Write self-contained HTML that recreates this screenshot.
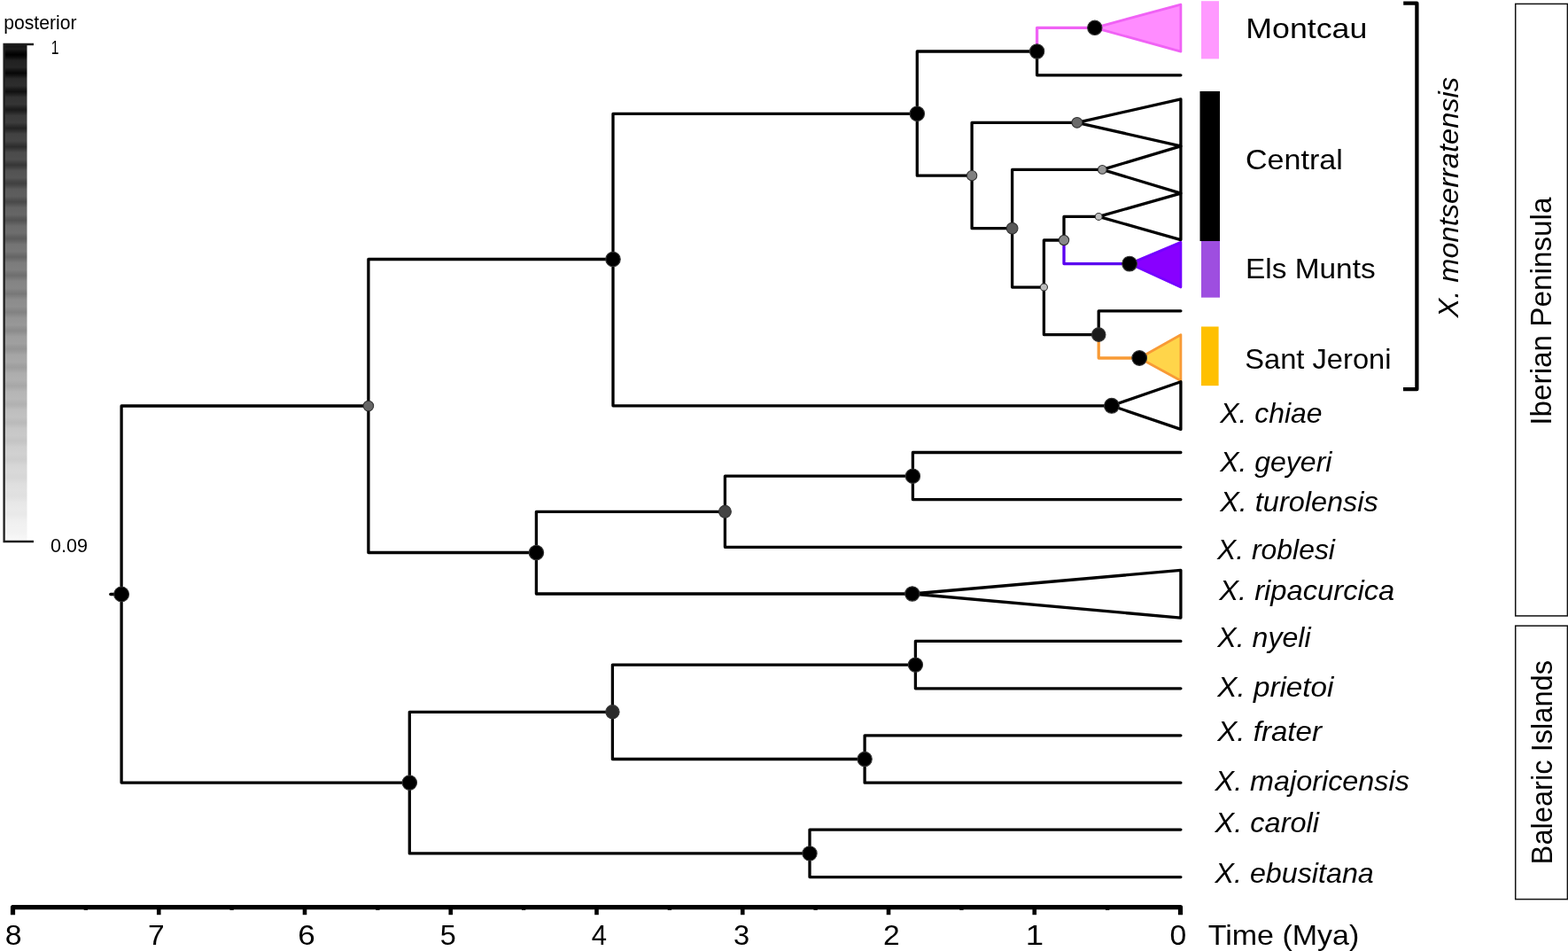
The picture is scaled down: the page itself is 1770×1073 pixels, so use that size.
<!DOCTYPE html>
<html><head><meta charset="utf-8"><title>Phylogeny</title>
<style>
html,body{margin:0;padding:0;background:#fff;}
body{width:1770px;height:1073px;overflow:hidden;}
svg{display:block;}
#wrap{width:1770px;height:1073px;}
text{font-family:"Liberation Sans",Arial,sans-serif;fill:#000;}
.lab{font-size:32px;}
.reg{font-size:33px;}
.sp{font-size:32px;font-style:italic;}
.num{font-size:32px;}
.leg{font-size:21.5px;}
.legn{font-size:22px;}
</style></head>
<body><div id="wrap">
<svg width="1770" height="1073" viewBox="0 0 1770 1073">
<defs>
<linearGradient id="pg" x1="0" y1="0" x2="0" y2="1">
<stop offset="0.0000" stop-color="#111111"/>
<stop offset="0.0093" stop-color="#1c1c1c"/>
<stop offset="0.0155" stop-color="#0a0a0a"/>
<stop offset="0.0209" stop-color="#000000"/>
<stop offset="0.0262" stop-color="#0c0c0c"/>
<stop offset="0.0324" stop-color="#212121"/>
<stop offset="0.0463" stop-color="#252525"/>
<stop offset="0.0525" stop-color="#131313"/>
<stop offset="0.0579" stop-color="#070707"/>
<stop offset="0.0632" stop-color="#151515"/>
<stop offset="0.0694" stop-color="#2a2a2a"/>
<stop offset="0.0833" stop-color="#2d2d2d"/>
<stop offset="0.0895" stop-color="#1c1c1c"/>
<stop offset="0.0949" stop-color="#101010"/>
<stop offset="0.1002" stop-color="#1e1e1e"/>
<stop offset="0.1065" stop-color="#323232"/>
<stop offset="0.1203" stop-color="#353535"/>
<stop offset="0.1265" stop-color="#252525"/>
<stop offset="0.1319" stop-color="#1a1a1a"/>
<stop offset="0.1372" stop-color="#272727"/>
<stop offset="0.1435" stop-color="#3a3a3a"/>
<stop offset="0.1573" stop-color="#3d3d3d"/>
<stop offset="0.1635" stop-color="#2e2e2e"/>
<stop offset="0.1689" stop-color="#232323"/>
<stop offset="0.1742" stop-color="#303030"/>
<stop offset="0.1805" stop-color="#424242"/>
<stop offset="0.1943" stop-color="#454545"/>
<stop offset="0.2005" stop-color="#373737"/>
<stop offset="0.2059" stop-color="#2d2d2d"/>
<stop offset="0.2112" stop-color="#393939"/>
<stop offset="0.2175" stop-color="#4b4b4b"/>
<stop offset="0.2313" stop-color="#4e4e4e"/>
<stop offset="0.2375" stop-color="#404040"/>
<stop offset="0.2429" stop-color="#363636"/>
<stop offset="0.2482" stop-color="#424242"/>
<stop offset="0.2545" stop-color="#535353"/>
<stop offset="0.2683" stop-color="#565656"/>
<stop offset="0.2745" stop-color="#484848"/>
<stop offset="0.2799" stop-color="#404040"/>
<stop offset="0.2852" stop-color="#4b4b4b"/>
<stop offset="0.2915" stop-color="#5b5b5b"/>
<stop offset="0.3053" stop-color="#5e5e5e"/>
<stop offset="0.3116" stop-color="#515151"/>
<stop offset="0.3169" stop-color="#494949"/>
<stop offset="0.3222" stop-color="#545454"/>
<stop offset="0.3285" stop-color="#636363"/>
<stop offset="0.3423" stop-color="#666666"/>
<stop offset="0.3486" stop-color="#5a5a5a"/>
<stop offset="0.3539" stop-color="#535353"/>
<stop offset="0.3593" stop-color="#5d5d5d"/>
<stop offset="0.3655" stop-color="#6b6b6b"/>
<stop offset="0.3793" stop-color="#6e6e6e"/>
<stop offset="0.3856" stop-color="#636363"/>
<stop offset="0.3909" stop-color="#5c5c5c"/>
<stop offset="0.3963" stop-color="#666666"/>
<stop offset="0.4025" stop-color="#747474"/>
<stop offset="0.4163" stop-color="#777777"/>
<stop offset="0.4226" stop-color="#6c6c6c"/>
<stop offset="0.4279" stop-color="#656565"/>
<stop offset="0.4333" stop-color="#6f6f6f"/>
<stop offset="0.4395" stop-color="#7c7c7c"/>
<stop offset="0.4533" stop-color="#7f7f7f"/>
<stop offset="0.4596" stop-color="#757575"/>
<stop offset="0.4649" stop-color="#6f6f6f"/>
<stop offset="0.4703" stop-color="#787878"/>
<stop offset="0.4765" stop-color="#848484"/>
<stop offset="0.4903" stop-color="#878787"/>
<stop offset="0.4966" stop-color="#7e7e7e"/>
<stop offset="0.5019" stop-color="#787878"/>
<stop offset="0.5073" stop-color="#818181"/>
<stop offset="0.5135" stop-color="#8c8c8c"/>
<stop offset="0.5273" stop-color="#8f8f8f"/>
<stop offset="0.5336" stop-color="#878787"/>
<stop offset="0.5389" stop-color="#828282"/>
<stop offset="0.5443" stop-color="#8a8a8a"/>
<stop offset="0.5505" stop-color="#949494"/>
<stop offset="0.5643" stop-color="#989898"/>
<stop offset="0.5706" stop-color="#909090"/>
<stop offset="0.5759" stop-color="#8b8b8b"/>
<stop offset="0.5813" stop-color="#939393"/>
<stop offset="0.5875" stop-color="#9d9d9d"/>
<stop offset="0.6014" stop-color="#a0a0a0"/>
<stop offset="0.6076" stop-color="#999999"/>
<stop offset="0.6129" stop-color="#959595"/>
<stop offset="0.6183" stop-color="#9b9b9b"/>
<stop offset="0.6245" stop-color="#a5a5a5"/>
<stop offset="0.6384" stop-color="#a8a8a8"/>
<stop offset="0.6446" stop-color="#a2a2a2"/>
<stop offset="0.6499" stop-color="#9e9e9e"/>
<stop offset="0.6553" stop-color="#a4a4a4"/>
<stop offset="0.6615" stop-color="#adadad"/>
<stop offset="0.6754" stop-color="#b0b0b0"/>
<stop offset="0.6816" stop-color="#ababab"/>
<stop offset="0.6870" stop-color="#a7a7a7"/>
<stop offset="0.6923" stop-color="#adadad"/>
<stop offset="0.6985" stop-color="#b5b5b5"/>
<stop offset="0.7124" stop-color="#b8b8b8"/>
<stop offset="0.7186" stop-color="#b4b4b4"/>
<stop offset="0.7240" stop-color="#b1b1b1"/>
<stop offset="0.7293" stop-color="#b6b6b6"/>
<stop offset="0.7355" stop-color="#bebebe"/>
<stop offset="0.7494" stop-color="#c1c1c1"/>
<stop offset="0.7556" stop-color="#bdbdbd"/>
<stop offset="0.7610" stop-color="#bababa"/>
<stop offset="0.7663" stop-color="#bfbfbf"/>
<stop offset="0.7725" stop-color="#c6c6c6"/>
<stop offset="0.7864" stop-color="#c9c9c9"/>
<stop offset="0.7926" stop-color="#c6c6c6"/>
<stop offset="0.7980" stop-color="#c4c4c4"/>
<stop offset="0.8033" stop-color="#c8c8c8"/>
<stop offset="0.8096" stop-color="#cecece"/>
<stop offset="0.8234" stop-color="#d1d1d1"/>
<stop offset="0.8296" stop-color="#cfcfcf"/>
<stop offset="0.8350" stop-color="#cdcdcd"/>
<stop offset="0.8403" stop-color="#d1d1d1"/>
<stop offset="0.8466" stop-color="#d6d6d6"/>
<stop offset="0.8604" stop-color="#d9d9d9"/>
<stop offset="0.8666" stop-color="#d7d7d7"/>
<stop offset="0.8720" stop-color="#d7d7d7"/>
<stop offset="0.8773" stop-color="#dadada"/>
<stop offset="0.8836" stop-color="#dedede"/>
<stop offset="0.8974" stop-color="#e1e1e1"/>
<stop offset="0.9036" stop-color="#e0e0e0"/>
<stop offset="0.9090" stop-color="#e0e0e0"/>
<stop offset="0.9143" stop-color="#e3e3e3"/>
<stop offset="0.9206" stop-color="#e7e7e7"/>
<stop offset="0.9344" stop-color="#eaeaea"/>
<stop offset="0.9406" stop-color="#e9e9e9"/>
<stop offset="0.9460" stop-color="#e9e9e9"/>
<stop offset="0.9513" stop-color="#ececec"/>
<stop offset="0.9576" stop-color="#efefef"/>
<stop offset="0.9714" stop-color="#f2f2f2"/>
<stop offset="0.9776" stop-color="#f2f2f2"/>
<stop offset="0.9830" stop-color="#f3f3f3"/>
<stop offset="0.9883" stop-color="#f5f5f5"/>
<stop offset="0.9946" stop-color="#f7f7f7"/>
<stop offset="1.0000" stop-color="#f8f8f8"/>
</linearGradient>
</defs>
<rect x="0" y="0" width="1770" height="1073" fill="#fff"/>
<!-- legend -->
<rect x="5" y="50" width="25.5" height="561" fill="url(#pg)"/>
<path d="M38 50H4.6V611H38" fill="none" stroke="#1e1e1e" stroke-width="2.3"/>
<!-- tree -->
<g fill="none" stroke-width="3.3" stroke-linejoin="round" stroke-linecap="butt">
<path d="M137.1 670.5V458.0H415.9" stroke="#000"/>
<path d="M137.1 670.5V883.1H462.3" stroke="#000"/>
<path d="M415.9 458.0V292.5H692.0" stroke="#000"/>
<path d="M415.9 458.0V623.5H605.4" stroke="#000"/>
<path d="M692.0 292.5V128.3H1035.3" stroke="#000"/>
<path d="M692.0 292.5V457.8H1254.9" stroke="#000"/>
<path d="M1035.3 128.3V58.0H1170.6" stroke="#000"/>
<path d="M1035.3 128.3V198.2H1097.1" stroke="#000"/>
<path d="M1170.6 58.0V31.3H1235.8" stroke="#f062f5"/>
<path d="M1170.6 58.0V84.8H1332.9" stroke="#000" stroke-linecap="round"/>
<path d="M1097.1 198.2V138.3H1215.8" stroke="#000"/>
<path d="M1097.1 198.2V257.7H1142.6" stroke="#000"/>
<path d="M1142.6 257.7V191.4H1244.3" stroke="#000"/>
<path d="M1142.6 257.7V324.1H1178.4" stroke="#000"/>
<path d="M1178.4 324.1V271.0H1201.0" stroke="#000"/>
<path d="M1178.4 324.1V377.6H1240.2" stroke="#000"/>
<path d="M1201.0 271.0V244.4H1240.2" stroke="#000"/>
<path d="M1201.0 271.0V297.6H1275.1" stroke="#5a00f0"/>
<path d="M1240.2 377.6V350.8H1332.9" stroke="#000" stroke-linecap="round"/>
<path d="M1240.2 377.6V404.0H1286.2" stroke="#f89a35"/>
<path d="M605.4 623.5V577.3H818.4" stroke="#000"/>
<path d="M605.4 623.5V670.0H1029.8" stroke="#000"/>
<path d="M818.4 577.3V537.2H1030.4" stroke="#000"/>
<path d="M818.4 577.3V617.3H1332.9" stroke="#000" stroke-linecap="round"/>
<path d="M1030.4 537.2V510.5H1332.9" stroke="#000" stroke-linecap="round"/>
<path d="M1030.4 537.2V563.6H1332.9" stroke="#000" stroke-linecap="round"/>
<path d="M462.3 883.1V803.3H691.4" stroke="#000"/>
<path d="M462.3 883.1V962.9H914.0" stroke="#000"/>
<path d="M691.4 803.3V750.1H1033.4" stroke="#000"/>
<path d="M691.4 803.3V856.5H976.1" stroke="#000"/>
<path d="M1033.4 750.1V723.4H1332.9" stroke="#000" stroke-linecap="round"/>
<path d="M1033.4 750.1V776.8H1332.9" stroke="#000" stroke-linecap="round"/>
<path d="M976.1 856.5V829.8H1332.9" stroke="#000" stroke-linecap="round"/>
<path d="M976.1 856.5V883.2H1332.9" stroke="#000" stroke-linecap="round"/>
<path d="M914.0 962.9V936.1H1332.9" stroke="#000" stroke-linecap="round"/>
<path d="M914.0 962.9V989.6H1332.9" stroke="#000" stroke-linecap="round"/>
</g>
<path d="M124.8 670.5H137" stroke="#000" stroke-width="3.3" stroke-linecap="round"/>
<path d="M1235.8 31.3L1332.9 5.1L1332.9 58.2Z" fill="#ff8cff" stroke="#f062f5" stroke-width="2.8" stroke-linejoin="round"/>
<path d="M1215.8 138.3L1332.9 111.9L1332.9 164.9Z" fill="#fff" stroke="#000" stroke-width="3.3" stroke-linejoin="round"/>
<path d="M1244.3 191.4L1332.9 164.9L1332.9 218.1Z" fill="#fff" stroke="#000" stroke-width="3.3" stroke-linejoin="round"/>
<path d="M1240.2 244.4L1332.9 218.1L1332.9 270.6Z" fill="#fff" stroke="#000" stroke-width="3.3" stroke-linejoin="round"/>
<path d="M1275.1 297.6L1332.9 273.4L1332.9 324.0Z" fill="#8800ff" stroke="#7400ff" stroke-width="2.8" stroke-linejoin="round"/>
<path d="M1286.2 404.0L1332.9 377.8L1332.9 429.5Z" fill="#ffd54a" stroke="#f89a35" stroke-width="2.8" stroke-linejoin="round"/>
<path d="M1254.9 457.8L1332.9 430.7L1332.9 484.4Z" fill="#fff" stroke="#000" stroke-width="3.3" stroke-linejoin="round"/>
<path d="M1029.8 670.0L1332.9 643.4L1332.9 697.1Z" fill="#fff" stroke="#000" stroke-width="3.3" stroke-linejoin="round"/>
<circle cx="137.1" cy="670.5" r="8.45" fill="#000" stroke="#333" stroke-width="1.1"/>
<circle cx="415.9" cy="458.0" r="5.75" fill="#666" stroke="#333" stroke-width="1.1"/>
<circle cx="692.0" cy="292.5" r="8.25" fill="#000" stroke="#333" stroke-width="1.1"/>
<circle cx="1035.3" cy="128.3" r="8.25" fill="#000" stroke="#333" stroke-width="1.1"/>
<circle cx="1170.6" cy="58.0" r="8.15" fill="#000" stroke="#333" stroke-width="1.1"/>
<circle cx="1235.8" cy="31.3" r="8.15" fill="#000" stroke="#333" stroke-width="1.1"/>
<circle cx="1097.1" cy="198.2" r="5.65" fill="#808080" stroke="#333" stroke-width="1.1"/>
<circle cx="1215.8" cy="138.3" r="5.85" fill="#6a6a6a" stroke="#333" stroke-width="1.1"/>
<circle cx="1142.6" cy="257.7" r="6.35" fill="#585858" stroke="#333" stroke-width="1.1"/>
<circle cx="1244.3" cy="191.4" r="4.85" fill="#999" stroke="#333" stroke-width="1.1"/>
<circle cx="1178.4" cy="324.1" r="4.05" fill="#bdbdbd" stroke="#333" stroke-width="1.1"/>
<circle cx="1201.0" cy="271.0" r="5.65" fill="#888" stroke="#333" stroke-width="1.1"/>
<circle cx="1240.2" cy="244.4" r="3.95" fill="#c0c0c0" stroke="#333" stroke-width="1.1"/>
<circle cx="1275.1" cy="297.6" r="8.35" fill="#000" stroke="#333" stroke-width="1.1"/>
<circle cx="1240.2" cy="377.6" r="7.75" fill="#1c1c1c" stroke="#333" stroke-width="1.1"/>
<circle cx="1286.2" cy="404.0" r="8.35" fill="#000" stroke="#333" stroke-width="1.1"/>
<circle cx="1254.9" cy="457.8" r="8.45" fill="#000" stroke="#333" stroke-width="1.1"/>
<circle cx="605.4" cy="623.5" r="8.25" fill="#000" stroke="#333" stroke-width="1.1"/>
<circle cx="818.4" cy="577.3" r="6.95" fill="#444" stroke="#333" stroke-width="1.1"/>
<circle cx="1030.4" cy="537.2" r="8.15" fill="#000" stroke="#333" stroke-width="1.1"/>
<circle cx="1029.8" cy="670.0" r="8.15" fill="#000" stroke="#333" stroke-width="1.1"/>
<circle cx="462.3" cy="883.1" r="8.25" fill="#000" stroke="#333" stroke-width="1.1"/>
<circle cx="691.4" cy="803.3" r="7.65" fill="#2a2a2a" stroke="#333" stroke-width="1.1"/>
<circle cx="1033.4" cy="750.1" r="8.15" fill="#000" stroke="#333" stroke-width="1.1"/>
<circle cx="976.1" cy="856.5" r="8.15" fill="#000" stroke="#333" stroke-width="1.1"/>
<circle cx="914.0" cy="962.9" r="8.15" fill="#000" stroke="#333" stroke-width="1.1"/>
<!-- colour bars -->
<rect x="1356" y="1.2" width="20" height="65.2" fill="#ff99ff"/>
<rect x="1354.5" y="103" width="22.5" height="169" fill="#000"/>
<rect x="1356" y="272" width="21" height="63.7" fill="#9e4ee0"/>
<rect x="1356" y="368.5" width="19.6" height="66.7" fill="#ffc000"/>
<!-- clade labels -->
<!-- bracket -->
<path d="M1584.2 3.7H1599.4V439.2H1584" fill="none" stroke="#000" stroke-width="4.3" stroke-linejoin="round"/>
<!-- species -->
<!-- region boxes -->
<rect x="1710.7" y="4.4" width="58.7" height="690.5" fill="none" stroke="#111" stroke-width="1.5"/>
<rect x="1710.7" y="706.1" width="58.7" height="308.5" fill="none" stroke="#111" stroke-width="1.5"/>
<!-- axis -->
<path d="M14.50 1032.2V1023.6H1332.50V1032.2" fill="none" stroke="#000" stroke-width="5.2" stroke-linejoin="round"/>
<path d="M179.25 1023V1032.2" stroke="#000" stroke-width="4.6"/>
<path d="M344.00 1023V1032.2" stroke="#000" stroke-width="4.6"/>
<path d="M508.75 1023V1032.2" stroke="#000" stroke-width="4.6"/>
<path d="M673.50 1023V1032.2" stroke="#000" stroke-width="4.6"/>
<path d="M838.25 1023V1032.2" stroke="#000" stroke-width="4.6"/>
<path d="M1003.00 1023V1032.2" stroke="#000" stroke-width="4.6"/>
<path d="M1167.75 1023V1032.2" stroke="#000" stroke-width="4.6"/>
<path d="M96.88 1023V1026.8" stroke="#000" stroke-width="4.4"/>
<path d="M261.62 1023V1026.8" stroke="#000" stroke-width="4.4"/>
<path d="M426.38 1023V1026.8" stroke="#000" stroke-width="4.4"/>
<path d="M591.12 1023V1026.8" stroke="#000" stroke-width="4.4"/>
<path d="M755.88 1023V1026.8" stroke="#000" stroke-width="4.4"/>
<path d="M920.62 1023V1026.8" stroke="#000" stroke-width="4.4"/>
<path d="M1085.38 1023V1026.8" stroke="#000" stroke-width="4.4"/>
<path d="M1250.12 1023V1026.8" stroke="#000" stroke-width="4.4"/>
<text id="posterior" x="4.23" y="32.60" textLength="82.38" lengthAdjust="spacingAndGlyphs" class="leg">posterior</text>
<text id="one" x="57.85" y="61.40" textLength="8.73" lengthAdjust="spacingAndGlyphs" class="legn">1</text>
<text id="p09" x="57.02" y="622.50" textLength="41.95" lengthAdjust="spacingAndGlyphs" class="legn">0.09</text>
<text id="Montcau" x="1406.31" y="43.20" textLength="137.08" lengthAdjust="spacingAndGlyphs" class="lab">Montcau</text>
<text id="Central" x="1406.00" y="191.00" textLength="109.82" lengthAdjust="spacingAndGlyphs" class="lab">Central</text>
<text id="ElsMunts" x="1405.99" y="314.40" textLength="146.70" lengthAdjust="spacingAndGlyphs" class="lab">Els Munts</text>
<text id="SantJeroni" x="1405.17" y="416.00" textLength="165.39" lengthAdjust="spacingAndGlyphs" class="lab">Sant Jeroni</text>
<text id="chiae" x="1377.13" y="476.60" textLength="115.42" lengthAdjust="spacingAndGlyphs" class="sp">X. chiae</text>
<text id="geyeri" x="1377.14" y="531.50" textLength="126.29" lengthAdjust="spacingAndGlyphs" class="sp">X. geyeri</text>
<text id="turol" x="1377.15" y="576.80" textLength="178.62" lengthAdjust="spacingAndGlyphs" class="sp">X. turolensis</text>
<text id="robl" x="1374.03" y="631.30" textLength="132.91" lengthAdjust="spacingAndGlyphs" class="sp">X. roblesi</text>
<text id="ripa" x="1376.16" y="676.90" textLength="198.15" lengthAdjust="spacingAndGlyphs" class="sp">X. ripacurcica</text>
<text id="nyeli" x="1374.30" y="730.30" textLength="105.28" lengthAdjust="spacingAndGlyphs" class="sp">X. nyeli</text>
<text id="prietoi" x="1374.35" y="785.80" textLength="131.07" lengthAdjust="spacingAndGlyphs" class="sp">X. prietoi</text>
<text id="frater" x="1374.22" y="835.80" textLength="117.74" lengthAdjust="spacingAndGlyphs" class="sp">X. frater</text>
<text id="major" x="1371.58" y="892.10" textLength="219.29" lengthAdjust="spacingAndGlyphs" class="sp">X. majoricensis</text>
<text id="caroli" x="1371.58" y="939.20" textLength="117.38" lengthAdjust="spacingAndGlyphs" class="sp">X. caroli</text>
<text id="ebus" x="1371.53" y="996.20" textLength="179.23" lengthAdjust="spacingAndGlyphs" class="sp">X. ebusitana</text>
<text id="montserr" transform="translate(1646.30,358.48) rotate(-90)" textLength="271.54" lengthAdjust="spacingAndGlyphs" class="sp">X. montserratensis</text>
<text id="iberian" transform="translate(1751.20,479.69) rotate(-90)" textLength="257.19" lengthAdjust="spacingAndGlyphs" class="reg">Iberian Peninsula</text>
<text id="balearic" transform="translate(1752.00,975.38) rotate(-90)" textLength="230.45" lengthAdjust="spacingAndGlyphs" class="reg">Balearic Islands</text>
<text id="time" x="1363.74" y="1065.80" textLength="170.57" lengthAdjust="spacingAndGlyphs" class="num">Time (Mya)</text>
<text id="d8" x="5.87" y="1066.20" textLength="18.83" lengthAdjust="spacingAndGlyphs" class="num">8</text>
<text id="d7" x="167.07" y="1066.20" textLength="18.70" lengthAdjust="spacingAndGlyphs" class="num">7</text>
<text id="d6" x="336.26" y="1066.20" textLength="19.53" lengthAdjust="spacingAndGlyphs" class="num">6</text>
<text id="d5" x="496.87" y="1066.20" textLength="18.03" lengthAdjust="spacingAndGlyphs" class="num">5</text>
<text id="d4" x="667.78" y="1066.20" textLength="17.30" lengthAdjust="spacingAndGlyphs" class="num">4</text>
<text id="d3" x="828.06" y="1066.20" textLength="18.15" lengthAdjust="spacingAndGlyphs" class="num">3</text>
<text id="d2" x="997.13" y="1066.20" textLength="18.69" lengthAdjust="spacingAndGlyphs" class="num">2</text>
<text id="d1" x="1157.72" y="1066.20" textLength="20.34" lengthAdjust="spacingAndGlyphs" class="num">1</text>
<text id="d0" x="1320.62" y="1066.20" textLength="18.75" lengthAdjust="spacingAndGlyphs" class="num">0</text>
</svg></div>
</body></html>
